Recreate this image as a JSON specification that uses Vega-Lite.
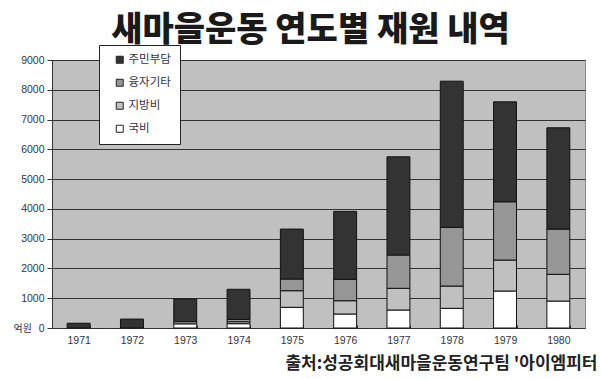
{
  "$schema": "https://vega.github.io/schema/vega-lite/v6.json",
  "autosize": {"type": "none"},
  "padding": {"left": 52, "top": 60, "right": 17, "bottom": 51},
  "width": 533,
  "height": 268,
  "background": "white",
  "title": {
    "text": "새마을운동 연도별 재원 내역",
    "font": "Noto Sans CJK KR",
    "fontSize": 34,
    "fontWeight": 900,
    "color": "#1a1a1a",
    "anchor": "middle",
    "frame": "group",
    "dx": -8,
    "dy": 21,
    "offset": 18
  },
  "data": {
    "values": [
      {"year": "1971", "cat": "주민부담", "v": 160},
      {"year": "1972", "cat": "주민부담", "v": 300},
      {"year": "1973", "cat": "국비", "v": 140},
      {"year": "1973", "cat": "지방비", "v": 70},
      {"year": "1973", "cat": "주민부담", "v": 760},
      {"year": "1974", "cat": "국비", "v": 145},
      {"year": "1974", "cat": "지방비", "v": 65},
      {"year": "1974", "cat": "융자기타", "v": 80},
      {"year": "1974", "cat": "주민부담", "v": 1010},
      {"year": "1975", "cat": "국비", "v": 695},
      {"year": "1975", "cat": "지방비", "v": 557},
      {"year": "1975", "cat": "융자기타", "v": 392},
      {"year": "1975", "cat": "주민부담", "v": 1678},
      {"year": "1976", "cat": "국비", "v": 470},
      {"year": "1976", "cat": "지방비", "v": 446},
      {"year": "1976", "cat": "융자기타", "v": 718},
      {"year": "1976", "cat": "주민부담", "v": 2282},
      {"year": "1977", "cat": "국비", "v": 604},
      {"year": "1977", "cat": "지방비", "v": 728},
      {"year": "1977", "cat": "융자기타", "v": 1118},
      {"year": "1977", "cat": "주민부담", "v": 3299},
      {"year": "1978", "cat": "국비", "v": 661},
      {"year": "1978", "cat": "지방비", "v": 748},
      {"year": "1978", "cat": "융자기타", "v": 1969},
      {"year": "1978", "cat": "주민부담", "v": 4911},
      {"year": "1979", "cat": "국비", "v": 1242},
      {"year": "1979", "cat": "지방비", "v": 1040},
      {"year": "1979", "cat": "융자기타", "v": 1957},
      {"year": "1979", "cat": "주민부담", "v": 3356},
      {"year": "1980", "cat": "국비", "v": 906},
      {"year": "1980", "cat": "지방비", "v": 896},
      {"year": "1980", "cat": "융자기타", "v": 1520},
      {"year": "1980", "cat": "주민부담", "v": 3401}
    ]
  },
  "mark": {"type": "bar", "stroke": "#111111", "strokeWidth": 1},
  "encoding": {
    "x": {
      "field": "year",
      "type": "ordinal",
      "scale": {"paddingInner": 0.57, "paddingOuter": 0.285},
      "axis": {
        "title": "출처:성공회대새마을운동연구팀 '아이엠피터",
        "titleFont": "Noto Sans CJK KR",
        "titleFontSize": 17,
        "titleFontWeight": "bold",
        "titleColor": "#222222",
        "titleAnchor": "end",
        "titleAlign": "right",
        "titleX": 545,
        "titleY": 35,
        "titleBaseline": "middle",
        "labelAngle": 0,
        "labelFont": "Liberation Sans",
        "labelFontSize": 10.5,
        "labelColor": "#333344",
        "labelPadding": 10,
        "tickBand": "extent",
        "tickSize": -3,
        "tickColor": "#333333",
        "domainColor": "#333333",
        "grid": false
      }
    },
    "y": {
      "field": "v",
      "type": "quantitative",
      "stack": "zero",
      "scale": {"domain": [0, 9000], "nice": false},
      "axis": {
        "values": [0, 1000, 2000, 3000, 4000, 5000, 6000, 7000, 8000, 9000],
        "format": "d",
        "title": "억원",
        "titleAngle": 0,
        "titleX": -39,
        "titleY": 268,
        "titleAlign": "left",
        "titleBaseline": "middle",
        "titleFont": "Noto Sans CJK KR",
        "titleFontSize": 10,
        "titleFontWeight": "normal",
        "titleColor": "#333355",
        "labelFont": "Liberation Sans",
        "labelFontSize": 10.5,
        "labelColor": "#333344",
        "labelPadding": 3,
        "tickSize": 5,
        "tickColor": "#333333",
        "domainColor": "#333333",
        "grid": true,
        "gridColor": "#333333",
        "gridWidth": 1
      }
    },
    "order": {"field": "year", "type": "ordinal"},
    "color": {
      "field": "cat",
      "type": "nominal",
      "sort": ["주민부담", "융자기타", "지방비", "국비"],
      "scale": {
        "domain": ["주민부담", "융자기타", "지방비", "국비"],
        "range": ["#333333", "#969696", "#c0c0c0", "#ffffff"]
      },
      "legend": {
        "title": null,
        "orient": "none",
        "legendX": 47,
        "legendY": -15,
        "fillColor": "white",
        "strokeColor": "#222222",
        "padding": 9,
        "symbolType": "square",
        "symbolSize": 49,
        "symbolStrokeColor": "#222222",
        "symbolStrokeWidth": 1,
        "symbolOffset": 6,
        "labelFont": "Noto Sans CJK KR",
        "labelFontSize": 11.5,
        "labelColor": "#333344",
        "labelOffset": 3,
        "rowPadding": 10
      }
    }
  },
  "config": {
    "view": {"fill": "#c0c0c0", "stroke": "#8c8c8c", "strokeWidth": 1}
  }
}
